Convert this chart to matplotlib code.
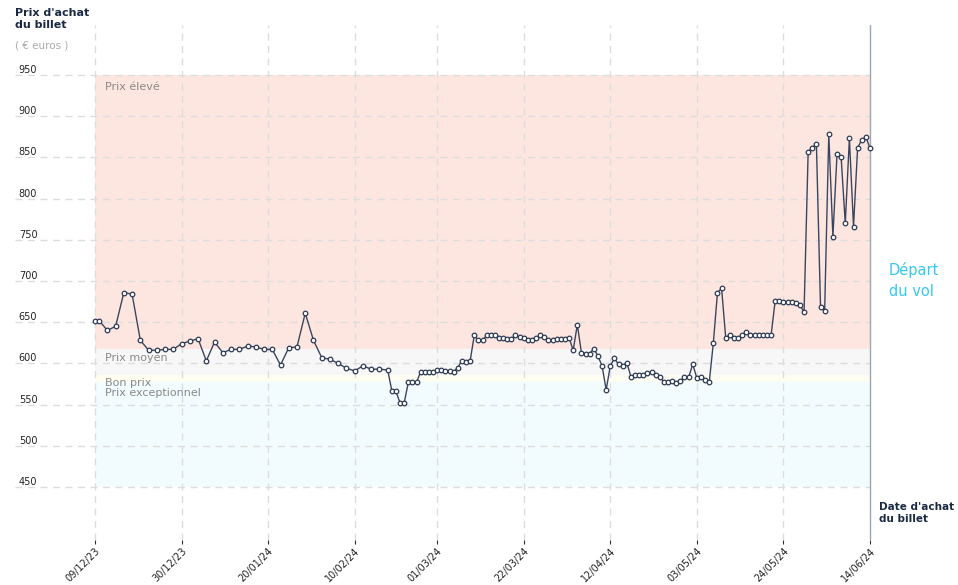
import matplotlib
matplotlib.use("Agg")
import matplotlib.pyplot as plt
import numpy as np

start = np.datetime64("2023-12-09")
days_a = [0, 1] + list(range(3, 70, 2))
vals_a = [652, 652, 640, 645, 686, 684, 628, 616, 616, 617, 617, 624, 627, 630, 603, 626,
          613, 617, 617, 621, 620, 617, 617, 598, 619, 620, 661, 628, 607, 605, 600, 594,
          591, 597, 593, 593]
vals_b = [592, 567, 566, 552, 552, 577, 577, 577, 590, 590,
          590, 590, 592, 592, 591, 591, 590, 595, 603, 602,
          603, 634, 628, 628, 634, 634, 634, 631, 631, 630,
          630, 634, 632, 631, 629, 629, 631, 634, 632, 628,
          629, 630, 630, 630, 631, 616, 647, 613, 612, 612,
          618, 609, 597, 568, 597, 606, 599, 597, 601, 584,
          586, 586, 586, 588, 589, 586, 583, 578, 577, 579,
          576, 579, 583, 583, 599, 582, 583, 580,
          577, 625, 686, 691, 631, 635, 631, 631, 635, 638, 635, 635, 634, 634, 635, 634,
          676, 676, 675, 675, 675, 673, 671, 662, 857, 862, 866, 668, 664, 878, 754, 854,
          850, 770, 873, 766, 862, 871, 875, 861]
days_b = list(range(71, 71 + len(vals_b)))
days = np.array(days_a + days_b)
prices = np.array(vals_a + vals_b)

tick_days = [0, 21, 42, 63, 83, 104, 125, 146, 167, 188]
tick_labels = [str((start + np.timedelta64(d, "D")).astype(object).strftime("%d/%m/%y")) for d in tick_days]
y_ticks = [450, 500, 550, 600, 650, 700, 750, 800, 850, 900, 950]

bands = [(617, 950, "#fde6df", "Prix élevé"), (586, 617, "#f7f7f8", "Prix moyen"),
         (577, 586, "#fdfdf2", "Bon prix"), (450, 577, "#f2fbfd", "Prix exceptionnel")]

W, H = 958, 585
fig = plt.figure(figsize=(W / 100, H / 100), dpi=100)
L, R, T, B = 15, 958, 25, 540
ax = fig.add_axes([L / W, 1 - B / H, (R - L) / W, (B - T) / H])
px_day = 775 / 188
x0 = (L - 95) / px_day
ax.set_xlim(x0, (R - 95) / px_day)
py_val = 41.2 / 50
ax.set_ylim(950 - (B - 75) / py_val, 950 + (75 - T) / py_val)
for s in ax.spines.values():
    s.set_visible(False)

for lo, hi, c, lab in bands:
    ax.fill_between([0, 188], lo, hi, color=c, lw=0, zorder=0)
ax.text(2.5, 936, "Prix élevé", fontsize=8, color="#8a8a8a", va="center")
ax.text(2.5, 606, "Prix moyen", fontsize=8, color="#8a8a8a", va="center")
ax.text(2.5, 576, "Bon prix", fontsize=8, color="#8a8a8a", va="center")
ax.text(2.5, 564, "Prix exceptionnel", fontsize=8, color="#8a8a8a", va="center")

for y in y_ticks:
    ax.plot([x0, 188], [y, y], color="#dddddd", lw=1, ls=(0, (5, 4)), zorder=1)
    ax.text(-18.5, y + 6, str(y), fontsize=7, color="#222222", va="center")
for d in tick_days[:-1]:
    ax.axvline(d, color="#dddddd", lw=1, ls=(0, (5, 4)), zorder=1)
ax.axvline(188, color="#9aa5b5", lw=1, zorder=2)

ax.plot(days, prices, color="#3a4660", lw=1, marker="o", ms=3.3, mfc="white",
        mec="#2d3a55", mew=0.9, zorder=3)

ax.set_yticks([])
ax.set_xticks(tick_days)
ax.set_xticklabels(tick_labels, rotation=45, ha="right", rotation_mode="anchor",
                   fontsize=7, color="#222222")
ax.tick_params(axis="x", length=3, color="#333333", pad=1)

fig.text(15 / W, 1 - 19 / H, "Prix d'achat\ndu billet", fontsize=8, fontweight="bold",
         color="#1b2a44", va="center", linespacing=1.2)
fig.text(15 / W, 1 - 46 / H, "( € euros )", fontsize=7.5, color="#aaaaaa", va="center")
fig.text(889 / W, 1 - 280 / H, "Départ\ndu vol", fontsize=10.5, color="#35c8f0", va="center",
         linespacing=1.5)
fig.text(879 / W, 1 - 513 / H, "Date d'achat\ndu billet", fontsize=7.5, fontweight="bold",
         color="#1b2a44", va="center", linespacing=1.3)

fig.savefig("out.png", dpi=100)
